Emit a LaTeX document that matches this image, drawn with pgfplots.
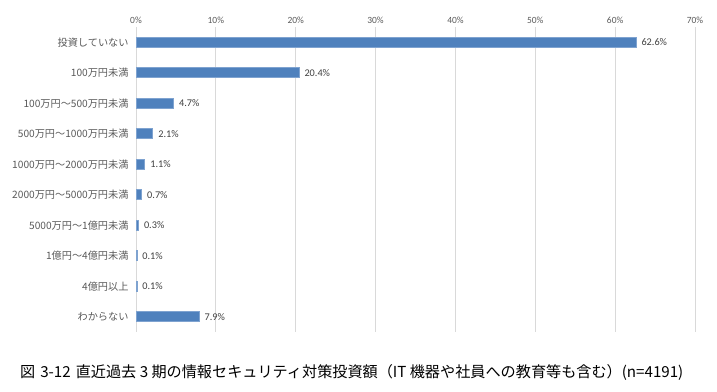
\documentclass[border=0pt]{standalone}
\usepackage{fontspec}
\setmainfont{Carlito}
\newfontfamily\jp{Noto Sans CJK JP}
\usepackage{pgfplots}
\pgfplotsset{compat=1.18}
\definecolor{barblue}{HTML}{4F81BD}
\definecolor{baredge}{HTML}{7FA3D0}
\definecolor{gridgray}{HTML}{D9D9D9}
\definecolor{labgray}{HTML}{595959}
\definecolor{valgray}{HTML}{404040}
\begin{document}
\begin{tikzpicture}[x=1bp,y=1bp]
\useasboundingbox (0,0) rectangle (717,391);
\begin{axis}[
 at={(136bp,59bp)}, anchor=south west,
 scale only axis, width=559bp, height=305bp,
 xbar, bar width=10bp,
 xmin=0, xmax=70, ymin=-0.5, ymax=9.5, y dir=reverse,
 /pgf/number format/assume math mode=true,
 xtick={0,10,...,70},
 xticklabels={0\%,10\%,20\%,30\%,40\%,50\%,60\%,70\%},
 xticklabel pos=upper,
 ytick={0,...,9},
 yticklabels={投資していない,100万円未満,100万円～500万円未満,500万円～1000万円未満,1000万円～2000万円未満,2000万円～5000万円未満,5000万円～1億円未満,1億円～4億円未満,4億円以上,わからない},
 axis line style={draw=none}, major tick length=0pt,
 xmajorgrids, grid style={gridgray, line width=0.9bp},
 xticklabel style={font=\fontsize{9.5}{10}\selectfont, text=labgray},
 yticklabel style={font=\jp\fontsize{10.2}{11}\selectfont, text=labgray, xshift=-4bp},
 nodes near coords={\pgfmathprintnumber[fixed,fixed zerofill,precision=1]{\pgfplotspointmeta}\%},
 nodes near coords style={font=\fontsize{10.3}{11}\selectfont, text=valgray, anchor=west, xshift=2bp},
]
\addplot[fill=barblue, draw=baredge, line width=0.6bp] coordinates {
 (62.6,0) (20.4,1) (4.7,2) (2.1,3) (1.1,4) (0.7,5) (0.3,6) (0.1,7) (0.1,8) (7.9,9)};
\end{axis}
\node[font=\jp\fontsize{15.2}{17}\selectfont, anchor=west, inner sep=0pt] at (20,19) {図\hspace{5bp}3-12\hspace{5bp}直近過去 3 期の情報セキュリティ対策投資額（IT 機器や社員への教育等も含む）(n=4191)};
\end{tikzpicture}
\end{document}
